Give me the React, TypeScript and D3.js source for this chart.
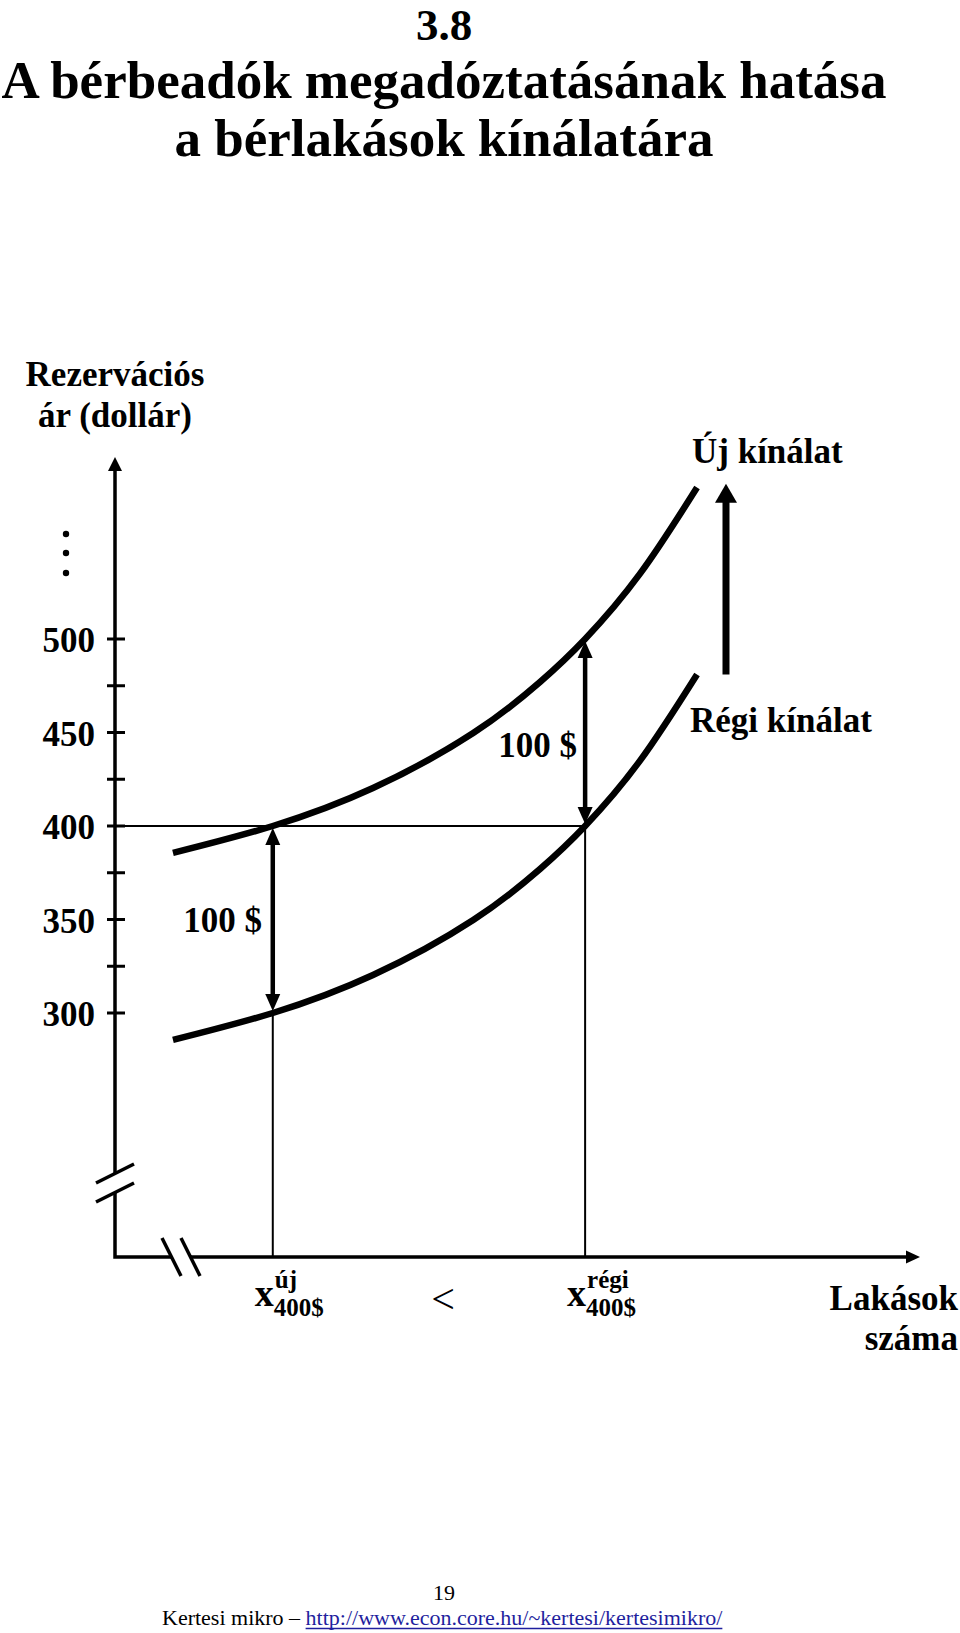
import React, { useEffect, useRef } from "react";
import * as d3 from "d3";

// title and labels
const titleNumber = "3.8";
const titleLines = ["A bérbeadók megadóztatásának hatása", "a bérlakások kínálatára"];
const yAxisTitle = ["Rezervációs", "ár (dollár)"];
const xAxisTitle = ["Lakások", "száma"];
const newSupplyLabel = "Új kínálat";
const oldSupplyLabel = "Régi kínálat";
const taxLabel = "100 $";
const footerPage = "19";
const footerText = "Kertesi mikro – ";
const footerUrl = "http://www.econ.core.hu/~kertesi/kertesimikro/";

// price axis
const priceTicks = [300, 350, 400, 450, 500];
const minorTicks = [325, 375, 425, 475];

// supply curves (quantity, reservation price)
const supplyQ = [7.2, 19.6, 32.05, 44.5, 52.8, 58.4, 65.2, 72.3];
const oldSupplyP = [285.6, 300, 320.3, 349.7, 377, 400, 434.8, 481];
const newSupplyP = [385.6, 400, 420.3, 449.7, 477, 500, 534.8, 581];

// equilibrium at 400$
const eqPrice = 400;
const qNew = 19.6;
const qOld = 58.4;
const lowPrice = 300;
const highPrice = 500;

// upward shift arrow
const shiftQ = 75.9;
const shiftFrom = 481;
const shiftTo = 583;

const FONT = "'Liberation Serif', 'Times New Roman', serif";

const App = () => {
  const svgRef = useRef<SVGSVGElement>(null);

  useEffect(() => {
    const width = 960,
      height = 1633;
    const origin = { x: 115, y: 1257 };
    const axisTop = 457;
    const axisRight = 920;

    d3.select(svgRef.current).selectAll("*").remove();
    const svg = d3
      .select(svgRef.current)
      .attr("width", width)
      .attr("height", height)
      .style("font-family", FONT);

    svg.append("rect").attr("width", width).attr("height", height).attr("fill", "#fff");

    const x = d3.scaleLinear().domain([0, 100]).range([origin.x, axisRight]);
    const y = d3.scaleLinear().domain([300, 500]).range([1013, 639]);

    // filled triangle pointing in direction (dx, dy)
    const head = (tx: number, ty: number, dx: number, dy: number, len: number, half: number) => {
      const bx = tx - dx * len,
        by = ty - dy * len;
      const pts = [
        [tx, ty],
        [bx - dy * half, by + dx * half],
        [bx + dy * half, by - dx * half],
      ];
      svg.append("polygon").attr("points", pts.map((p) => p.join(",")).join(" ")).attr("fill", "#000");
    };

    // Title
    const title = svg.append("g").attr("font-weight", "bold").attr("text-anchor", "middle");
    title.append("text").attr("x", 444).attr("y", 40.3).attr("font-size", 45).text(titleNumber);
    titleLines.forEach((t, i) => {
      title.append("text").attr("x", 444).attr("y", 98 + i * 58).attr("font-size", 53).text(t);
    });

    // Y axis title
    const yt = svg.append("g").attr("font-weight", "bold").attr("font-size", 35).attr("text-anchor", "middle");
    yAxisTitle.forEach((t, i) => {
      yt.append("text").attr("x", origin.x).attr("y", 386 + i * 41).text(t);
    });

    // continuation dots
    [534, 553, 573].forEach((cy) => {
      svg.append("circle").attr("cx", 66).attr("cy", cy).attr("r", 3.2).attr("fill", "#000");
    });

    // thin guide lines
    const guides = svg.append("g").attr("stroke", "#000").attr("stroke-width", 2);
    guides.append("line").attr("x1", origin.x).attr("x2", x(qOld)).attr("y1", y(eqPrice)).attr("y2", y(eqPrice));
    guides.append("line").attr("x1", x(qNew)).attr("x2", x(qNew)).attr("y1", y(lowPrice)).attr("y2", origin.y);
    guides.append("line").attr("x1", x(qOld)).attr("x2", x(qOld)).attr("y1", y(eqPrice)).attr("y2", origin.y);

    // axes
    const axes = svg.append("g").attr("stroke", "#000").attr("stroke-width", 3.5).attr("fill", "none");
    axes
      .append("path")
      .attr("d", `M${origin.x},${axisTop + 10}V${origin.y}H${axisRight - 10}`)
      .attr("stroke-linejoin", "miter");
    head(origin.x, axisTop, 0, -1, 14, 7);
    head(axisRight, origin.y, 1, 0, 14, 6.5);

    // axis breaks
    svg.append("rect").attr("x", origin.x - 4).attr("y", 1174).attr("width", 8).attr("height", 18).attr("fill", "#fff");
    svg.append("rect").attr("x", 172).attr("y", origin.y - 4).attr("width", 18).attr("height", 8).attr("fill", "#fff");
    const brk = svg.append("g").attr("stroke", "#000").attr("stroke-width", 3.5);
    brk.append("line").attr("x1", 96).attr("y1", 1183).attr("x2", 134).attr("y2", 1164);
    brk.append("line").attr("x1", 96).attr("y1", 1202).attr("x2", 134).attr("y2", 1183);
    brk.append("line").attr("x1", 162).attr("y1", 1238).attr("x2", 181).attr("y2", 1276);
    brk.append("line").attr("x1", 181).attr("y1", 1238).attr("x2", 200).attr("y2", 1276);

    // ticks
    const ticks = svg.append("g").attr("stroke", "#000").attr("stroke-width", 3);
    [...priceTicks, ...minorTicks].forEach((v) => {
      ticks.append("line").attr("x1", origin.x - 8).attr("x2", origin.x + 10).attr("y1", y(v)).attr("y2", y(v));
    });
    const tickLabels = svg.append("g").attr("font-weight", "bold").attr("font-size", 35).attr("text-anchor", "end");
    priceTicks.forEach((v) => {
      tickLabels.append("text").attr("x", 95).attr("y", y(v) + 13).text(v);
    });

    // supply curves
    const line = d3
      .line<number>()
      .x((_, i) => x(supplyQ[i]))
      .y((d) => y(d))
      .curve(d3.curveNatural);
    [oldSupplyP, newSupplyP].forEach((s) => {
      svg
        .append("path")
        .datum(s)
        .attr("fill", "none")
        .attr("stroke", "#000")
        .attr("stroke-width", 6.5)
        .attr("d", line);
    });

    // 100$ double arrows
    const dbl = (q: number, pLow: number, pHigh: number) => {
      const ax = x(q),
        top = y(pHigh) + 2,
        bot = y(pLow) - 2;
      svg
        .append("line")
        .attr("x1", ax)
        .attr("x2", ax)
        .attr("y1", top + 12)
        .attr("y2", bot - 12)
        .attr("stroke", "#000")
        .attr("stroke-width", 4.5);
      head(ax, top, 0, -1, 17, 7.5);
      head(ax, bot, 0, 1, 17, 7.5);
    };
    dbl(qNew, lowPrice, eqPrice);
    dbl(qOld, eqPrice, highPrice);

    const lbl = svg.append("g").attr("font-weight", "bold").attr("font-size", 35);
    lbl.append("text").attr("x", 262).attr("y", 932).attr("text-anchor", "end").text(taxLabel);
    lbl.append("text").attr("x", 577).attr("y", 757).attr("text-anchor", "end").text(taxLabel);

    // shift arrow
    svg
      .append("line")
      .attr("x1", x(shiftQ))
      .attr("x2", x(shiftQ))
      .attr("y1", y(shiftFrom))
      .attr("y2", y(shiftTo) + 15)
      .attr("stroke", "#000")
      .attr("stroke-width", 7);
    head(x(shiftQ), y(shiftTo), 0, -1, 19, 11);

    lbl.append("text").attr("x", 692).attr("y", 463).text(newSupplyLabel);
    lbl.append("text").attr("x", 690).attr("y", 732).text(oldSupplyLabel);

    // quantity labels
    const qLabel = (q: number, sup: string) => {
      const g = svg.append("g").attr("font-weight", "bold");
      g.append("text").attr("x", x(q) + 1).attr("y", 1306).attr("text-anchor", "end").attr("font-size", 38).text("x");
      g.append("text").attr("x", x(q) + 2).attr("y", 1288).attr("font-size", 25).text(sup);
      g.append("text").attr("x", x(q) + 1).attr("y", 1316).attr("font-size", 25).text(`${eqPrice}$`);
    };
    qLabel(qNew, "új");
    qLabel(qOld, "régi");
    svg.append("text").attr("x", 443).attr("y", 1313).attr("text-anchor", "middle").attr("font-size", 42).text("<");

    xAxisTitle.forEach((t, i) => {
      lbl.append("text").attr("x", 958).attr("y", 1310 + i * 40).attr("text-anchor", "end").text(t);
    });

    // footer
    svg.append("text").attr("x", 444).attr("y", 1600).attr("text-anchor", "middle").attr("font-size", 22).text(footerPage);
    const foot = svg.append("text").attr("x", 162).attr("y", 1625).attr("font-size", 22);
    foot.append("tspan").text(footerText);
    const link = foot.append("tspan").attr("fill", "#1f1f9e").text(footerUrl);
    const node = link.node() as SVGTSpanElement;
    const start = node.getStartPositionOfChar(0).x;
    const len = node.getComputedTextLength();
    svg
      .append("line")
      .attr("x1", start)
      .attr("x2", start + len)
      .attr("y1", 1628.5)
      .attr("y2", 1628.5)
      .attr("stroke", "#1f1f9e")
      .attr("stroke-width", 1.3);
  }, []);

  return <svg ref={svgRef} style={{ position: "absolute", left: 0, top: 0, display: "block" }}></svg>;
};

export default App;
